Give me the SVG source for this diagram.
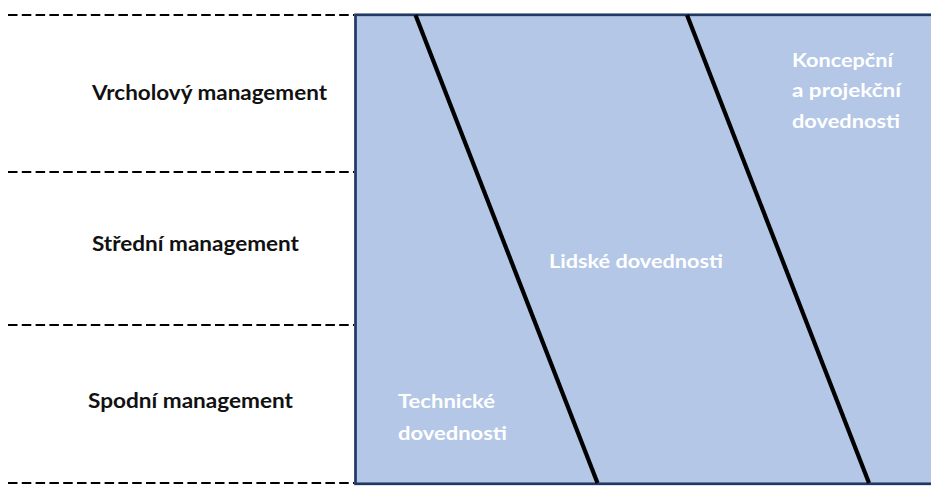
<svg xmlns="http://www.w3.org/2000/svg" width="931" height="486" viewBox="0 0 931 486">
<style>
.dash{stroke:#000;stroke-width:2.2;stroke-dasharray:9.5 4.3;fill:none}
.lvl{font-family:Lato,"Liberation Sans",sans-serif;font-weight:700;font-size:20.5px;fill:#111}
.sk{font-family:Lato,"Liberation Sans",sans-serif;font-weight:700;font-size:19.5px;fill:#fff}
.div{stroke:#000;stroke-width:4.2;fill:none}
</style>
<rect width="931" height="486" fill="#fff"/>
<g id="levels">
<line class="dash" x1="8" y1="15" x2="354" y2="15"/>
<line class="dash" x1="8" y1="172" x2="354" y2="172"/>
<line class="dash" x1="8" y1="325" x2="354" y2="325"/>
<line class="dash" x1="8" y1="483" x2="354" y2="483"/>
</g>
<g id="vrcholovy"><text class="lvl" x="92" y="100" textLength="235" lengthAdjust="spacingAndGlyphs">Vrcholový management</text></g>
<g id="stredni"><text class="lvl" x="92" y="251" textLength="207" lengthAdjust="spacingAndGlyphs">Střední management</text></g>
<g id="spodni"><text class="lvl" x="88" y="408" textLength="205" lengthAdjust="spacingAndGlyphs">Spodní management</text></g>
<g id="skills-area">
<rect x="355.5" y="14.8" width="580" height="469" fill="#b4c7e7" stroke="#203864" stroke-width="2.7"/>
</g>
<g id="connectors">
<line class="div" x1="415.5" y1="15" x2="597.5" y2="483"/>
<line class="div" x1="687" y1="15" x2="869" y2="483"/>
</g>
<g id="koncepcni">
<text class="sk" x="792" y="67" textLength="101" lengthAdjust="spacingAndGlyphs">Koncepční</text>
<text class="sk" x="792" y="97" textLength="109" lengthAdjust="spacingAndGlyphs">a projekční</text>
<text class="sk" x="792" y="128" textLength="108" lengthAdjust="spacingAndGlyphs">dovednosti</text>
</g>
<g id="lidske"><text class="sk" x="549" y="268" textLength="174" lengthAdjust="spacingAndGlyphs">Lidské dovednosti</text></g>
<g id="technicke">
<text class="sk" x="398" y="408" textLength="97" lengthAdjust="spacingAndGlyphs">Technické</text>
<text class="sk" x="398" y="440" textLength="109" lengthAdjust="spacingAndGlyphs">dovednosti</text>
</g>
</svg>
